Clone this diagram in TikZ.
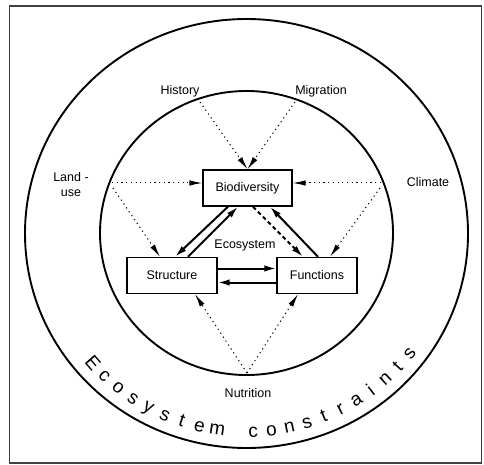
\documentclass[tikz,border=0pt]{standalone}
\usepackage{fontspec}
\setmainfont{Liberation Sans}
\usetikzlibrary{arrows.meta,calc}
\begin{document}
\begin{tikzpicture}[x=1pt,y=1pt,
  box/.style={draw, line width=1.4pt, minimum height=36pt, inner sep=0pt, font=\fontsize{12.5}{15}\selectfont},
  lbl/.style={font=\fontsize{12.5}{15}\selectfont, inner sep=0pt, align=center},
  flow/.style={line width=2pt, -{Latex[length=12pt,width=6.5pt]}},
  infl/.style={line width=1pt, dash pattern=on 1.2pt off 3.5pt, -{Latex[length=13pt,width=5.5pt]}},
  ring/.style={line width=1.9pt},
  arcletter/.style={font=\fontsize{19}{19}\selectfont, inner sep=0pt, anchor=base},
]
\useasboundingbox (0,0) rectangle (484,464);
\draw[line width=1.2pt, black!75] (9.5,1) rectangle (481.5,458);
\draw[ring] (246.5,230.5) ellipse [x radius=221.5, y radius=214.5];
\draw[ring] (246.5,231) ellipse [x radius=146.5, y radius=142];

\node[box, minimum width=89pt] (bio) at (247.5,276) {Biodiversity};
\node[box, minimum width=90pt] (str) at (172,188.5) {Structure};
\node[box, minimum width=80pt] (fun) at (317,188.5) {Functions};
\node[lbl] (eco) at (245,219) {Ecosystem};
\node[lbl] (hist) at (180,373) {History};
\node[lbl] (mig) at (321,373) {Migration};
\node[lbl] (land) at (71,279.5) {Land -\\use};
\node[lbl] (clim) at (428,282) {Climate};
\node[lbl] (nut) at (248,71) {Nutrition};

\coordinate (h0) at (200,362);
\coordinate (m0) at (295,362);
\coordinate (l0) at (112,281);
\coordinate (l1) at (113,276);
\coordinate (c0) at (381,281);
\coordinate (c1) at (380,276);
\coordinate (n0) at (247,91);

\draw[infl] (h0) -- (bio.north);
\draw[infl] (m0) -- (bio.north);
\draw[infl] (l0) -- (l0 -| bio.west);
\draw[infl] (c0) -- (c0 -| bio.east);
\draw[infl] (l1) -- ($(str.north)+(-12,0)$);
\draw[infl] (c1) -- ($(fun.north)+(13,0)$);
\draw[infl] (n0) -- ($(str.south)+(23,0)$);
\draw[infl] (n0) -- ($(fun.south)+(-19,0)$);

\draw[flow] ($(bio.south)+(-19.5,0)$) -- ($(str.north)+(3,0)$);
\draw[flow] ($(str.north)+(16,0)$) -- ($(bio.south)+(-9.5,0)$);
\draw[flow] ($(fun.north)+(1,0)$) -- ($(bio.south)+(22.5,0)$);
\draw[flow, dash pattern=on 4pt off 3pt] ($(bio.south)+(5.5,0)$) -- ($(fun.north)+(-14,0)$);
\draw[flow] ($(str.east)+(0,7)$) -- ($(fun.west)+(0,7)$);
\draw[flow] ($(fun.west)+(0,-7)$) -- ($(str.east)+(0,-7)$);

\foreach \ch/\a [count=\i] in {E/221.0, c/226.1, o/231.2, s/236.3, y/241.4, s/246.5, t/251.6, e/256.7, m/261.8,
  c/271.9, o/277.0, n/282.1, s/287.2, t/292.3, r/297.4, a/302.5, i/307.6, n/312.7, t/317.8, s/322.9}
  \node[arcletter, rotate=\a+90] (ec\i) at ({246.5+210*cos(\a)},{230.5+203.5*sin(\a)}) {\ch};
\end{tikzpicture}
\end{document}
